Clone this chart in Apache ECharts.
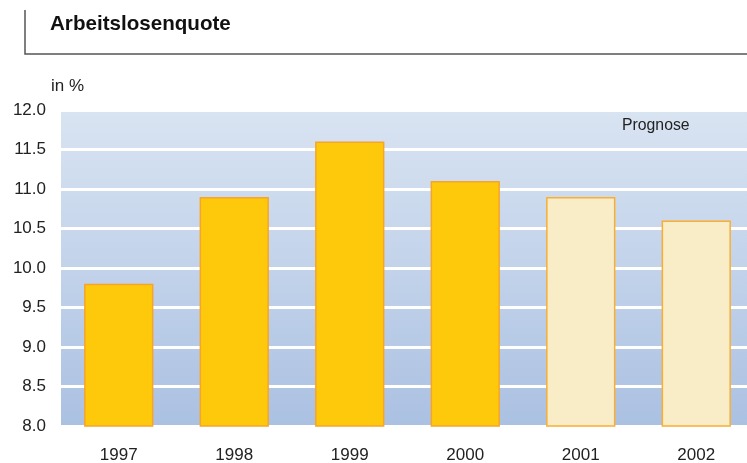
<!DOCTYPE html>
<html><head><meta charset="utf-8">
<script src="https://cdn.jsdelivr.net/npm/echarts@6/dist/echarts.min.js"></script>
<style>html,body{margin:0;padding:0;background:#fff}#c{width:747px;height:463px}</style>
</head><body><div id="c"></div>
<script>
const categories = ['1997','1998','1999','2000','2001','2002'];
const values = [9.8, 10.9, 11.6, 11.1, 10.9, 10.6];
const forecast = [false, false, false, false, true, true];
const yTicks = [8.0, 8.5, 9.0, 9.5, 10.0, 10.5, 11.0, 11.5, 12.0];

const chart = echarts.init(document.getElementById('c'));
const font = 'Liberation Sans, Arial, sans-serif';
chart.setOption({
  animation: false,
  grid: {left: 61, width: 693, top: 110, bottom: 37, show: true, borderWidth: 0,
    outerBoundsMode: 'none', containLabel: false,
    backgroundColor: new echarts.graphic.LinearGradient(0,0,0,1,[{offset:0,color:'#d9e4f2'},{offset:1,color:'#abc1e2'}])},
  xAxis: {type: 'category', data: categories,
    axisLine: {show: false}, axisTick: {show: false},
    axisLabel: {color: '#222', fontSize: 17, fontFamily: font, margin: 21}},
  yAxis: {type: 'value', min: yTicks[0], max: yTicks[yTicks.length-1], interval: 0.5,
    axisLine: {show: false}, axisTick: {show: false},
    axisLabel: {color: '#222', fontSize: 17, fontFamily: font, margin: 15, formatter: v => v.toFixed(1)},
    splitLine: {show: true, lineStyle: {color: '#ffffff', width: 3}}},
  series: [{type: 'bar', barWidth: '60%',
    data: values.map((v,i) => ({value: v, itemStyle: forecast[i]
      ? {color: '#f9edc7', borderColor: '#f9ae32', borderWidth: 1.5}
      : {color: '#ffc90b', borderColor: '#f7a42a', borderWidth: 1.5}}))}],
  graphic: [
    {type: 'polyline', shape: {points: [[25,10],[25,54],[747,54]]}, style: {stroke: '#555', lineWidth: 1.5, fill: null}},
    {type: 'text', left: 50, top: 14, style: {text: 'Arbeitslosenquote', font: 'bold 20.6px ' + font, fill: '#111'}},
    {type: 'text', left: 51, top: 78, style: {text: 'in %', font: '17px ' + font, fill: '#222'}},
    {type: 'text', left: 622, top: 118, style: {text: 'Prognose', font: '15.8px ' + font, fill: '#222'}}
  ]
});
</script></body></html>
